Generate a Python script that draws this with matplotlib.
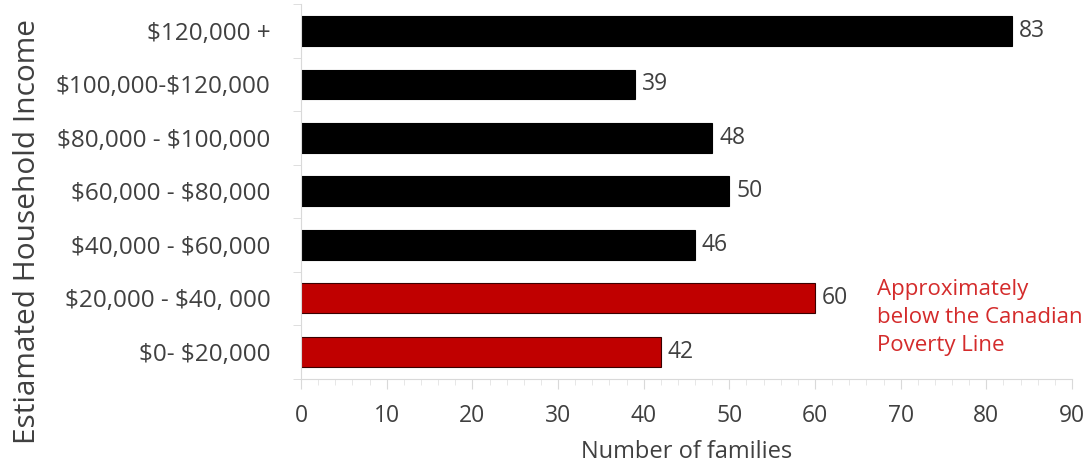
import numpy as np
import matplotlib
matplotlib.use('Agg')
import matplotlib.pyplot as plt
from matplotlib.ticker import MultipleLocator

plt.rcParams['font.family'] = ['Open Sans', 'DejaVu Sans']
plt.rcParams['text.parse_math'] = False

# data (bottom to top)
categories = ['$0- $20,000', '$20,000 - $40, 000', '$40,000 - $60,000',
              '$60,000 - $80,000', '$80,000 - $100,000', '$100,000-$120,000',
              '$120,000 +']
families = [42, 60, 46, 50, 48, 39, 83]
below_poverty = [True, True, False, False, False, False, False]

txt = '#404040'
fig = plt.figure(figsize=(10.88, 4.67), dpi=100)
ax = fig.add_axes([0.2767, 0.1895, 0.7086, 0.8013])

y = np.arange(len(categories))
colors = ['#C00000' if p else 'black' for p in below_poverty]
edges = ['#3a0000' if p else 'black' for p in below_poverty]
ax.barh(y, families, height=0.56, color=colors, edgecolor=edges, linewidth=0.8)

for yi, v in zip(y, families):
    ax.text(v + 0.8, yi, str(v), va='center', ha='left', fontsize=16.5, color=txt)

ax.text(67.2, 0.64, 'Approximately\nbelow the Canadian\nPoverty Line',
        ha='left', va='center', color='#D42B2B', fontsize=16, linespacing=1.45)

ax.set_xlim(0, 90)
ax.set_ylim(-0.5, 6.5)
ax.set_yticks(y)
ax.set_yticklabels(categories)
ax.set_xticks(np.arange(0, 91, 10))
ax.xaxis.set_minor_locator(MultipleLocator(2))
ax.yaxis.set_minor_locator(MultipleLocator(1, offset=0.5))
ax.tick_params(axis='y', which='major', length=0, pad=22, labelsize=17.5, labelcolor=txt)
ax.tick_params(axis='y', which='minor', length=6, color='#d9d9d9', direction='out')
ax.tick_params(axis='x', which='major', length=7, color='#d9d9d9', labelsize=16.5,
               labelcolor=txt, pad=11)
ax.tick_params(axis='x', which='minor', length=4, color='#e3e3e3')

for s in ['top', 'right']:
    ax.spines[s].set_visible(False)
for s in ['left', 'bottom']:
    ax.spines[s].set_color('#d9d9d9')

ax.set_xlabel('Number of families', fontsize=17, color=txt, labelpad=9)
ax.set_ylabel('Estiamated Household Income', fontsize=21.5, color=txt)
ax.yaxis.set_label_coords(-0.336, 0.394)

plt.savefig('out.png', dpi=100)
